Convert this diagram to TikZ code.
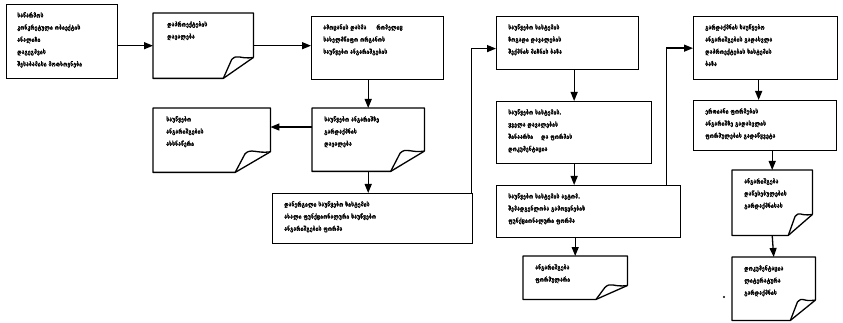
\documentclass[tikz,border=0pt]{standalone}
\usepackage{fontspec}
\newfontfamily\geo[FakeStretch=0.82,FakeBold=0.6]{DejaVu Sans}
\usetikzlibrary{arrows.meta,calc}

% outline of a document sheet with a turned-up lower right corner
\newcommand\docframe[1]{%
  \coordinate (#1-r) at ($(#1.north east)!0.68!(#1.south east)$);
  \coordinate (#1-b) at ($(#1.south west)!0.70!(#1.south east)$);
  \coordinate (#1-fx) at ($(#1-b)!0.28!(#1-r |- #1-b)$);
  \coordinate (#1-f) at ($(#1-fx |- #1-r)+(0,2)$);
  \draw[link, line join=round] (#1-r) -- (#1.north east) -- (#1.north west)
       -- (#1.south west) -- (#1-b) -- (#1-r);
  \draw[link, line join=round] (#1-b) -- (#1-f)
       .. controls ($(#1-f)+(6,-6)$) and ($(#1-r)+(-14,2)$) .. (#1-r);
}

\begin{document}
\begin{tikzpicture}[x=1pt,y=-1pt,
  link/.style={line width=1.3pt},
  box/.style={draw, line width=1.3pt, rectangle, inner sep=0pt, anchor=north west},
  docbox/.style={rectangle, inner sep=0pt, anchor=north west},
  txt/.style={anchor=north west, inner sep=0pt, align=left,
              font=\geo\bfseries\fontsize{6.4}{12.2}\selectfont},
  arr/.style={line width=1.3pt, -{Triangle[length=9pt,width=7pt]}}]
\useasboundingbox (0,0) rectangle (843,323);

% process boxes
\node[box, minimum width=111pt, minimum height=74pt] (b1) at (6,4) {};
\node[box, minimum width=132pt, minimum height=63pt] (b3) at (311,16) {};
\node[box, minimum width=200pt, minimum height=50pt] (b8) at (272,193) {};
\node[box, minimum width=142pt, minimum height=53pt] (b4) at (496,16) {};
\node[box, minimum width=155pt, minimum height=62pt] (b9) at (496,101) {};
\node[box, minimum width=184pt, minimum height=52pt] (b10) at (496,185) {};
\node[box, minimum width=144pt, minimum height=63pt] (b5) at (693,16) {};
\node[box, minimum width=143pt, minimum height=50pt] (b13) at (693,100) {};

% document sheets
\node[docbox, minimum width=100pt, minimum height=65pt] (b2) at (153,13) {};
\node[docbox, minimum width=112pt, minimum height=63pt] (b7) at (312,108) {};
\node[docbox, minimum width=117pt, minimum height=64pt] (b6) at (153,108) {};
\node[docbox, minimum width=104pt, minimum height=43pt] (b12) at (523,256) {};
\node[docbox, minimum width=80pt, minimum height=65pt] (b14) at (732,170) {};
\node[docbox, minimum width=83pt, minimum height=63pt] (b15) at (732,257) {};
\docframe{b2}
\docframe{b7}
\docframe{b6}
\docframe{b12}
\docframe{b14}
\docframe{b15}

% texts
\node[txt] (t1) at ($(b1.north west)+(11,8)$)
  {საწარმოს\\კონკრეტული ობიექტის\\ანალიზი\\დაგეგმვის\\შესაბამისი მოთხოვნები};
\node[txt] (t2) at ($(b2.north west)+(14,8)$) {დაპროექტების\\დავალება};
\node[txt] (t3) at ($(b3.north west)+(12,8)$)
  {ამოცანის დასმა\hspace{10pt}რომელიც\\სახელმწიფო ორგანოს\\საუწყებო ანგარიშგების};
\node[txt] (t4) at ($(b4.north west)+(12,8)$)
  {საუწყებო სისტემის\\ზოგადი დავალების\\შექმნის მიზნის ბაზა};
\node[txt] (t6) at ($(b6.north west)+(13,8)$) {საუწყებო\\ანგარიშგების\\ახსნაწერი};
\node[txt] (t7) at ($(b7.north west)+(12,8)$) {საუწყებო ანგარიშზე\\გარდაქმნის\\დავალება};
\node[txt] (t8) at ($(b8.north west)+(12,8)$)
  {დანერგილი საუწყებო სისტემის\\ახალი ფუნქციონალური საუწყებო\\ანგარიშგების ფორმა};
\node[txt] (t9) at ($(b9.north west)+(12,8)$)
  {საუწყებო სისტემის.\\ყველა დავალების\\შინაარსი\hspace{8pt}და ფორმის\\დოკუმენტაცია};
\node[txt] (t10) at ($(b10.north west)+(12,8)$)
  {საუწყებო სისტემის ავტომ.\\შემადგენლობა გამოყენების\\ფუნქციონალური ფორმა};
\node[txt] (t12) at ($(b12.north west)+(12,8)$) {ანგარიშგება\\ფორმულარი};
\node[txt] (t5) at ($(b5.north west)+(12,8)$)
  {გარდაქმნის საუწყებო\\ანგარიშგების გადასვლა\\დაპროექტების სისტემის\\ბაზა};
\node[txt] (t13) at ($(b13.north west)+(12,8)$)
  {ერთიანი ფორმების\\ანგარიშზე გადასვლის\\ფორმულების გადაწყვეტა};
\node[txt] (t14) at ($(b14.north west)+(12,8)$) {ანგარიშგება\\დაწესებულების\\გარდაქმნისას};
\node[txt] (t15) at ($(b15.north west)+(12,8)$) {დოკუმენტაცია\\ლიტერატურა\\გარდაქმნის};

% connectors
\draw[arr] (b1.east |- b2.west) -- (b2.west);
\draw[arr] (b2.east) -- (b2.east -| b3.west);
\draw[arr] (b7.north |- b3.south) -- (b7.north);
\coordinate (b7-l) at ($(b7.north west)!0.3!(b7.south west)$);
\draw[arr] (b7-l) -- (b7-l -| b6.east);
\draw[arr] (b7.south) -- (b7.south |- b8.north);
\coordinate (b8-up) at ($(b8.north east)+(-2,0)$);
\coordinate (b4-in) at ($(b4.north west)!0.6!(b4.south west)$);
\draw[arr] (b8-up) |- (b4-in);
\draw[arr] (b9.north |- b4.south) -- (b9.north);
\draw[arr] (b9.south) -- (b9.south |- b10.north);
\draw[arr] (b12.north |- b10.south) -- (b12.north);
\coordinate (b10-up) at ($(b10.north east)+(-15,0)$);
\draw[arr] (b10-up) |- (b5.west);
\coordinate (b5-out) at ($(b5.south)+(-7,0)$);
\draw[arr] (b5-out) -- (b5-out |- b13.north);
\draw[arr] (b14.north |- b13.south) -- (b14.north);
\draw[arr] (b14.south) -- (b15.north);

% stray mark beside the last sheet
\fill (724,297) circle (1.1pt);
\end{tikzpicture}
\end{document}
